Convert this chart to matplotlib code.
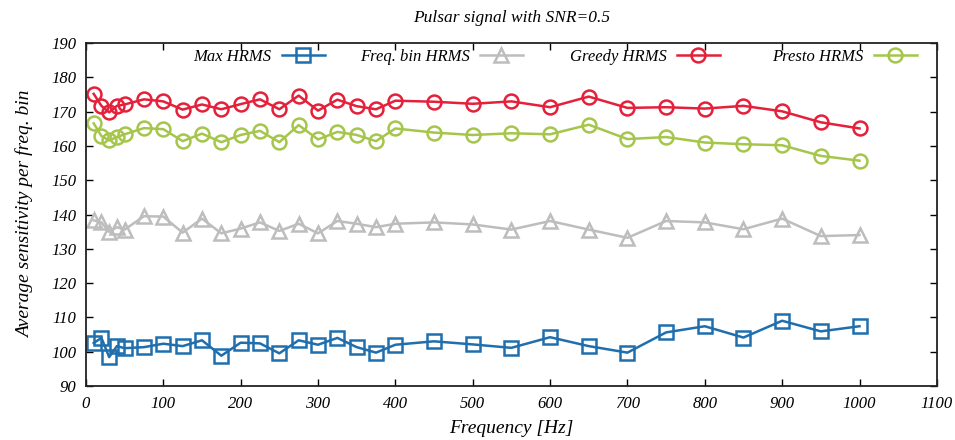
import matplotlib
matplotlib.use("Agg")
import matplotlib.pyplot as plt
from matplotlib.legend import Legend

plt.rcParams['font.family'] = ['Liberation Serif', 'DejaVu Serif']
plt.rcParams['font.style'] = 'italic'

freq = [10, 20, 30, 40, 50, 75, 100, 125, 150, 175, 200, 225, 250, 275, 300,
        325, 350, 375, 400, 450, 500, 550, 600, 650, 700, 750, 800, 850, 900, 950, 1000]

max_hrms = [102.5, 104.0, 98.4, 101.6, 101.0, 101.3, 102.3, 101.6, 103.3, 98.8, 102.6,
            102.4, 99.5, 103.3, 102.0, 104.0, 101.3, 99.7, 102.0, 103.0, 102.1, 101.1,
            104.2, 101.6, 99.7, 105.6, 107.4, 104.1, 109.0, 105.9, 107.4]
freq_bin_hrms = [138.3, 137.7, 134.9, 136.3, 135.6, 139.5, 139.4, 134.7, 138.8, 134.5, 135.9,
                 137.7, 135.2, 137.3, 134.5, 138.1, 137.3, 136.3, 137.3, 137.7, 137.1, 135.6,
                 138.1, 135.6, 133.2, 138.1, 137.7, 135.7, 138.8, 133.7, 134.0]
greedy_hrms = [175.2, 171.7, 169.8, 171.7, 172.1, 173.6, 173.0, 170.6, 172.1, 170.7, 172.2,
               173.6, 170.7, 174.7, 170.3, 173.5, 171.6, 170.7, 173.2, 172.9, 172.3, 173.0,
               171.3, 174.4, 171.1, 171.3, 170.9, 171.7, 170.1, 166.9, 165.1]
presto_hrms = [166.6, 162.9, 161.6, 162.6, 163.4, 165.2, 164.9, 161.4, 163.6, 161.1, 163.2,
               164.4, 161.1, 166.1, 161.9, 164.1, 163.2, 161.4, 165.1, 163.9, 163.2, 163.7,
               163.4, 166.2, 162.0, 162.6, 161.0, 160.5, 160.2, 157.1, 155.7]

series = [
    ("Max HRMS", max_hrms, "#1f6eae", "s"),
    ("Freq. bin HRMS", freq_bin_hrms, "#bdbdbd", "^"),
    ("Greedy HRMS", greedy_hrms, "#e4203a", "o"),
    ("Presto HRMS", presto_hrms, "#a5c64b", "o"),
]
# right end of each legend sample, in axes fraction
legend_x = [0.281, 0.5135, 0.745, 0.9765]

fig = plt.figure(figsize=(9.55, 4.4), dpi=100)
ax = fig.add_axes([0.090, 0.123, 0.891, 0.779])

lines = []
for label, vals, col, mk in series:
    ln, = ax.plot(freq, vals, color=col, marker=mk, markersize=10, markerfacecolor='none',
                  markeredgewidth=1.8, linewidth=1.8, label=label)
    lines.append(ln)

ax.set_xlim(0, 1100)
ax.set_ylim(90, 190)
ax.set_xticks(range(0, 1101, 100))
ax.set_yticks(range(90, 191, 10))
ax.tick_params(direction='in', top=True, right=True, labelsize=12, length=5, width=1, pad=7)
for sp in ax.spines.values():
    sp.set_linewidth(1.3)
    sp.set_color('#222222')

ax.set_xlabel("Frequency [Hz]", fontsize=14, labelpad=6)
ax.set_ylabel("Average sensitivity per freq. bin", fontsize=14, labelpad=12)
ax.set_title("Pulsar signal with SNR=0.5", fontsize=12.5, pad=15)

for ln, xr in zip(lines, legend_x):
    leg = Legend(ax, [ln], [ln.get_label()], loc='center right', markerfirst=False,
                 frameon=False, fontsize=12, handlelength=2.6, handletextpad=0.6,
                 borderpad=0, borderaxespad=0, bbox_to_anchor=(xr, 0.96))
    ax.add_artist(leg)

fig.savefig("out.png", dpi=100)
